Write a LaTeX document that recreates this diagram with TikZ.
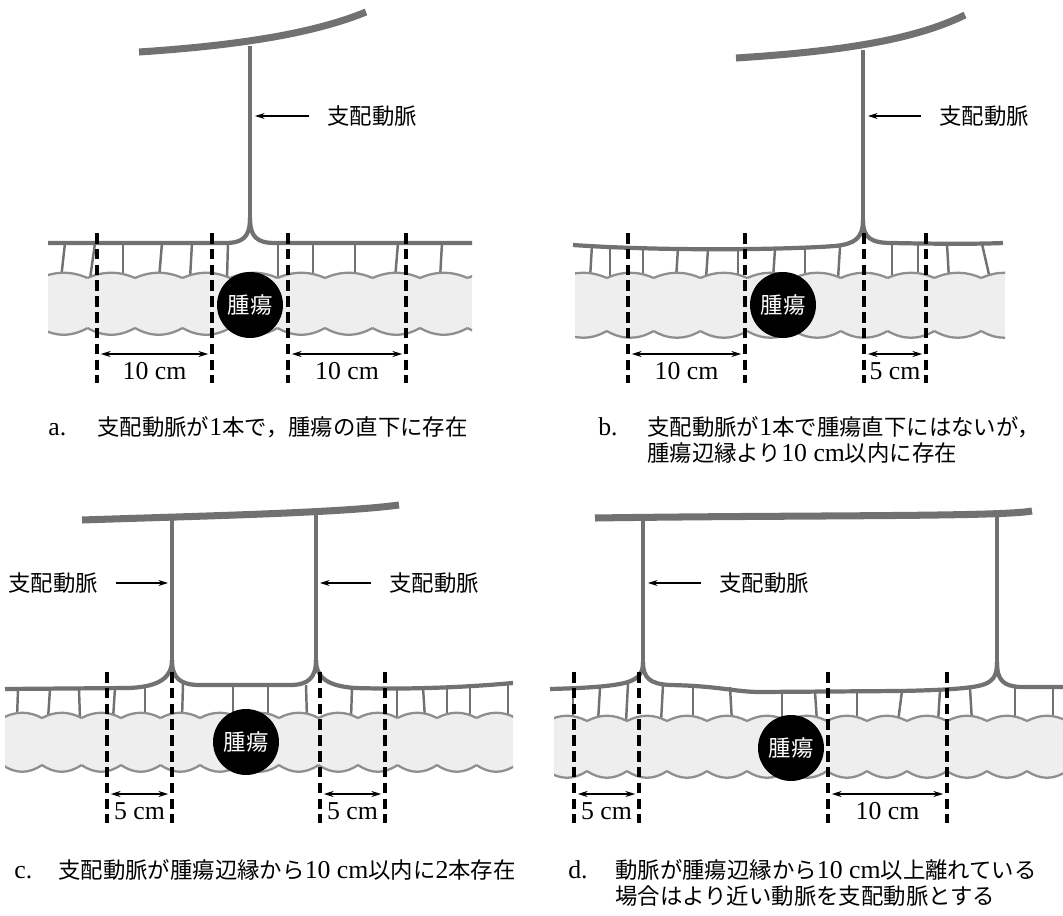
\documentclass[tikz,border=0pt]{standalone}
\usepackage{fontspec}
\setmainfont{Liberation Serif}[Scale=1.15]
\newfontfamily\cjk{Noto Sans CJK JP}
\usetikzlibrary{arrows.meta}

\definecolor{vessel}{HTML}{717171}
\definecolor{wall}{HTML}{8E8E8E}
\definecolor{lumen}{HTML}{EEEEEE}

\newcommand{\bodysize}{\fontsize{12.75}{15.3}\selectfont}

\newcommand{\haustra}[6]{%
  \begin{scope}
    \clip (#1, #3-12) rectangle (#2, #4+12);
    \fill [lumen] (#1, #3) rectangle (#2, #4);
    \foreach \k in {0,...,13} {
      \pgfmathsetmacro{\xa}{#5+\k*#6}
      \pgfmathsetmacro{\xb}{#5+(\k+1)*#6}
      \fill [lumen] (\xa, #3) .. controls (\xa+#6/3, #3-7) and (\xb-#6/3, #3-7) .. (\xb, #3) -- cycle;
      \fill [lumen] (\xa, #4) .. controls (\xa+#6/3, #4+9) and (\xb-#6/3, #4+9) .. (\xb, #4) -- cycle;
    }
    \foreach \k in {0,...,13} {
      \pgfmathsetmacro{\xa}{#5+\k*#6}
      \pgfmathsetmacro{\xb}{#5+(\k+1)*#6}
      \draw [wallline] (\xa, #3) .. controls (\xa+#6/3, #3-7) and (\xb-#6/3, #3-7) .. (\xb, #3);
      \draw [wallline] (\xa, #4) .. controls (\xa+#6/3, #4+9) and (\xb-#6/3, #4+9) .. (\xb, #4);
    }
  \end{scope}}

\begin{document}
\begin{tikzpicture}[x=0.02cm, y=-0.02cm,
  font=\bodysize,
  trunk/.style={vessel, line width=4pt},
  artery/.style={vessel, line width=2.1pt},
  marginal/.style={vessel, line width=2.4pt},
  vasa/.style={vessel, line width=1.4pt},
  wallline/.style={wall, line width=1.3pt},
  tumor/.style={circle, fill=black, text=white, minimum size=1.32cm, inner sep=0pt, font=\bodysize\cjk},
  cut/.style={black, line width=2pt, dash pattern=on 6pt off 3pt},
  dimarrow/.style={{Stealth[length=5.5pt, width=3.4pt]}-{Stealth[length=5.5pt, width=3.4pt]}, line width=.8pt, shorten <=2.2pt, shorten >=2.2pt},
  dimtext/.style={yshift=-9.8pt, inner sep=0pt},
  artlabel/.style={font=\bodysize\cjk, inner xsep=10pt, inner ysep=2pt},
  pointer/.style={-{Stealth[length=5.5pt, width=3.4pt]}, line width=.6pt},
  caption/.style={anchor=base west, inner sep=0pt}]

\useasboundingbox (0, 0) rectangle (1063, 916);

% a
\foreach \xt/\xb in {65/61, 95/90, 123/123, 162/159, 192/190, 228/227, 278/278, 313/313, 355/355, 398/395, 442/440}
  \draw [vasa] (\xt, 243) -- (\xb, 279);
\haustra{48}{472}{278}{328}{40}{47.5}
\draw [trunk] (139, 52) .. controls (230, 46) and (310, 35) .. (366, 12);
\draw [artery] (250, 46) -- (250, 220);
\draw [marginal] (48, 243) -- (225, 243) .. controls (243, 243) and (250, 237) .. (250, 218);
\draw [marginal] (250, 218) .. controls (250, 237) and (257, 243) .. (275, 243) -- (472, 243);
\node [tumor] (TumA) at (250, 305) {腫瘍};
\foreach \x in {97, 212, 288, 406}
  \draw [cut] (\x, 233) -- (\x, 383);
\draw [dimarrow] (97, 354) -- node [dimtext] {10 cm} (212, 354);
\draw [dimarrow] (288, 354) -- node [dimtext] {10 cm} (406, 354);
\coordinate (ArtA) at (255, 116);
\node [artlabel] (LabA) at (372, 116) {支配動脈};
\draw [pointer] (LabA) -- (ArtA);
\node [caption] (CapA) at (48, 435.5) {a.};
\node [caption] (TxtA) at (97, 435.5) {{\cjk 支配動脈が}1{\cjk 本で，腫瘍の直下に存在}};

% b
\foreach \xt/\yt/\xb in {592/245/590, 610/246/610, 643/247/643, 678/248/676, 708/249/706, 738/249/738, 775/249/773, 805/248/805, 840/247/838, 892/244/892, 918/244/918, 947/244/949, 982/244/990}
  \draw [vasa] (\xt, \yt) -- (\xb, 279);
\haustra{575}{1005}{278}{331}{560}{46.8}
\draw [trunk] (736, 58) .. controls (830, 52) and (910, 42) .. (965, 15);
\draw [artery] (863, 50) -- (863, 222);
\draw [marginal] (573, 245) .. controls (660, 251) and (780, 250) .. (835, 246) .. controls (855, 244) and (863, 238) .. (863, 220);
\draw [marginal] (863, 220) .. controls (863, 238) and (871, 243) .. (892, 243) .. controls (940, 244) and (980, 244) .. (1003, 243);
\node [tumor] (TumB) at (783, 305) {腫瘍};
\foreach \x in {628, 745, 864, 926}
  \draw [cut] (\x, 233) -- (\x, 383);
\draw [dimarrow] (628, 354) -- node [dimtext] {10 cm} (745, 354);
\draw [dimarrow] (864, 354) -- node [dimtext] {5 cm} (926, 354);
\coordinate (ArtB) at (868, 116);
\node [artlabel] (LabB) at (984, 116) {支配動脈};
\draw [pointer] (LabB) -- (ArtB);
\node [caption] (CapB) at (598, 435.5) {b.};
\node [caption] (TxtB1) at (647, 435.5) {{\cjk 支配動脈が}1{\cjk 本で腫瘍直下にはないが，}};
\node [caption] (TxtB2) at (647, 461.5) {{\cjk 腫瘍辺縁より}10 cm{\cjk 以内に存在}};

% c
\foreach \xt/\yt/\xb in {18/689/17, 50/689/48, 79/689/80, 115/688/113, 145/687/145, 183/684/182, 233/685/233, 268/685/268, 306/685/307, 352/688/351, 397/688/397, 423/687/425, 447/686/447, 470/685/470, 508/683/508}
  \draw [vasa] (\xt, \yt) -- (\xb, 719);
\haustra{5}{513}{718}{765}{2.5}{39.5}
\draw [trunk] (82, 520) .. controls (200, 516) and (340, 513) .. (399, 505);
\draw [artery] (172, 518) -- (172, 662);
\draw [artery] (316, 514) -- (316, 662);
\draw [marginal] (5, 689) -- (128, 688) .. controls (160, 687) and (172, 677) .. (172, 660);
\draw [marginal] (172, 660) .. controls (172, 678) and (180, 685) .. (200, 685) -- (290, 685) .. controls (308, 685) and (316, 678) .. (316, 660);
\draw [marginal] (316, 660) .. controls (316, 678) and (328, 686) .. (355, 688) .. controls (420, 690) and (480, 686) .. (513, 683);
\node [tumor] (TumC) at (246, 742) {腫瘍};
\foreach \x in {107, 172, 320, 385}
  \draw [cut] (\x, 672) -- (\x, 823);
\draw [dimarrow] (107, 794) -- node [dimtext] {5 cm} (172, 794);
\draw [dimarrow] (320, 794) -- node [dimtext] {5 cm} (385, 794);
\coordinate (ArtC1) at (168, 583);
\coordinate (ArtC2) at (320, 583);
\node [artlabel] (LabC1) at (53, 583) {支配動脈};
\node [artlabel] (LabC2) at (434, 583) {支配動脈};
\draw [pointer] (LabC1) -- (ArtC1);
\draw [pointer] (LabC2) -- (ArtC2);
\node [caption] (CapC) at (14, 878.5) {c.};
\node [caption] (TxtC) at (58, 878.5) {{\cjk 支配動脈が腫瘍辺縁から}10 cm{\cjk 以内に}2{\cjk 本存在}};

% d
\foreach \xt/\yt/\xb in {573/689/573, 600/688/598, 628/684/626, 663/685/661, 693/686/693, 730/687/732, 782/692/782, 815/692/817, 857/692/857, 902/691/898, 940/690/938, 970/688/972, 1015/687/1015, 1053/687/1053}
  \draw [vasa] (\xt, \yt) -- (\xb, 722);
\haustra{554}{1063}{721}{771}{547}{40}
\draw [trunk] (595, 518) .. controls (800, 515) and (1000, 517) .. (1032, 511);
\draw [artery] (643, 517) -- (643, 667);
\draw [artery] (997, 516) -- (997, 668);
\draw [marginal] (550, 689) .. controls (590, 688) and (615, 686) .. (628, 682) .. controls (640, 678) and (643, 672) .. (643, 662);
\draw [marginal] (643, 662) .. controls (643, 678) and (650, 684) .. (670, 685) .. controls (720, 686) and (735, 692) .. (760, 692) -- (900, 691) .. controls (950, 690) and (975, 688) .. (985, 684) .. controls (995, 680) and (997, 673) .. (997, 662);
\draw [marginal] (997, 662) .. controls (997, 680) and (1003, 686) .. (1020, 687) -- (1063, 687);
\node [tumor] (TumD) at (791, 748) {腫瘍};
\foreach \x in {574, 639, 828, 947}
  \draw [cut] (\x, 672) -- (\x, 823);
\draw [dimarrow] (574, 794) -- node [dimtext] {5 cm} (639, 794);
\draw [dimarrow] (828, 794) -- node [dimtext] {10 cm} (947, 794);
\coordinate (ArtD) at (648, 583);
\node [artlabel] (LabD) at (764, 583) {支配動脈};
\draw [pointer] (LabD) -- (ArtD);
\node [caption] (CapD) at (568, 878.5) {d.};
\node [caption] (TxtD1) at (615, 878.5) {{\cjk 動脈が腫瘍辺縁から}10 cm{\cjk 以上離れている}};
\node [caption] (TxtD2) at (615, 904.5) {{\cjk 場合はより近い動脈を支配動脈とする}};

\end{tikzpicture}
\end{document}
